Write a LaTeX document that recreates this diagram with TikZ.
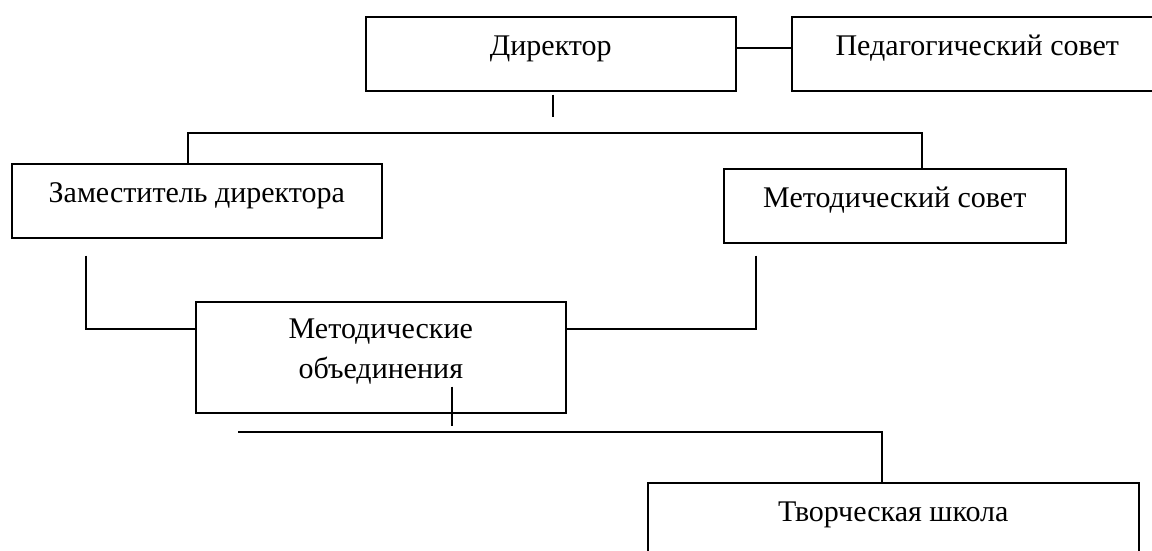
\documentclass[tikz,border=0pt]{standalone}
\usepackage{fontspec}
\setmainfont{Liberation Serif}
\usepackage{tikz}
\usetikzlibrary{positioning}

\begin{document}
\begin{tikzpicture}[line width=1.6pt,
    box/.style={draw, anchor=north west, inner xsep=0pt, inner ysep=0pt, align=center,
      text height=39pt, text depth=35pt, font=\fontsize{30pt}{40pt}\selectfont}]
    \useasboundingbox (0,0) rectangle (1152pt,-550pt);
    \clip (0,0) rectangle (1152pt,-550pt);

    \node [box, minimum width=370pt] (dir) at (365pt,-16pt) {Директор};
    \node [box, minimum width=371pt] (ped) at (791pt,-16pt) {Педагогический совет};
    \node [box, minimum width=370pt] (dep) at (11pt,-163pt) {Заместитель директора};
    \node [box, minimum width=342pt] (mc) at (723pt,-168pt) {Методический совет};
    \node [box, minimum width=370pt, text height=77pt, text depth=34pt] (assoc) at (195pt,-301pt) {Методические\\объединения};
    \node [box, minimum width=491pt, text depth=60pt] (cs) at (647pt,-482pt) {Творческая школа};

    \coordinate (stem) at (553pt,-117pt);
    \coordinate (bus) at (553pt,-133pt);
    \coordinate (stem2) at (452pt,-426pt);
    \coordinate (bus2) at (238pt,-432pt);

    \draw ([yshift=6pt]dir.east) -- ([yshift=6pt]ped.west);
    \draw (stem |- dir.south) ++(0,-3pt) -- (stem);
    \draw ([xshift=-9pt]dep.north) |- (bus) -| ([xshift=27pt]mc.north);
    \draw ([xshift=-111pt,yshift=-17pt]dep.south) |- ([yshift=28.5pt]assoc.west);
    \draw ([xshift=-139pt,yshift=-12pt]mc.south) |- ([yshift=28.5pt]assoc.east);
    \draw (stem2 |- assoc.south) ++(0,27pt) -- (stem2);
    \draw (bus2) -| ([xshift=-11.5pt]cs.north);
\end{tikzpicture}
\end{document}
